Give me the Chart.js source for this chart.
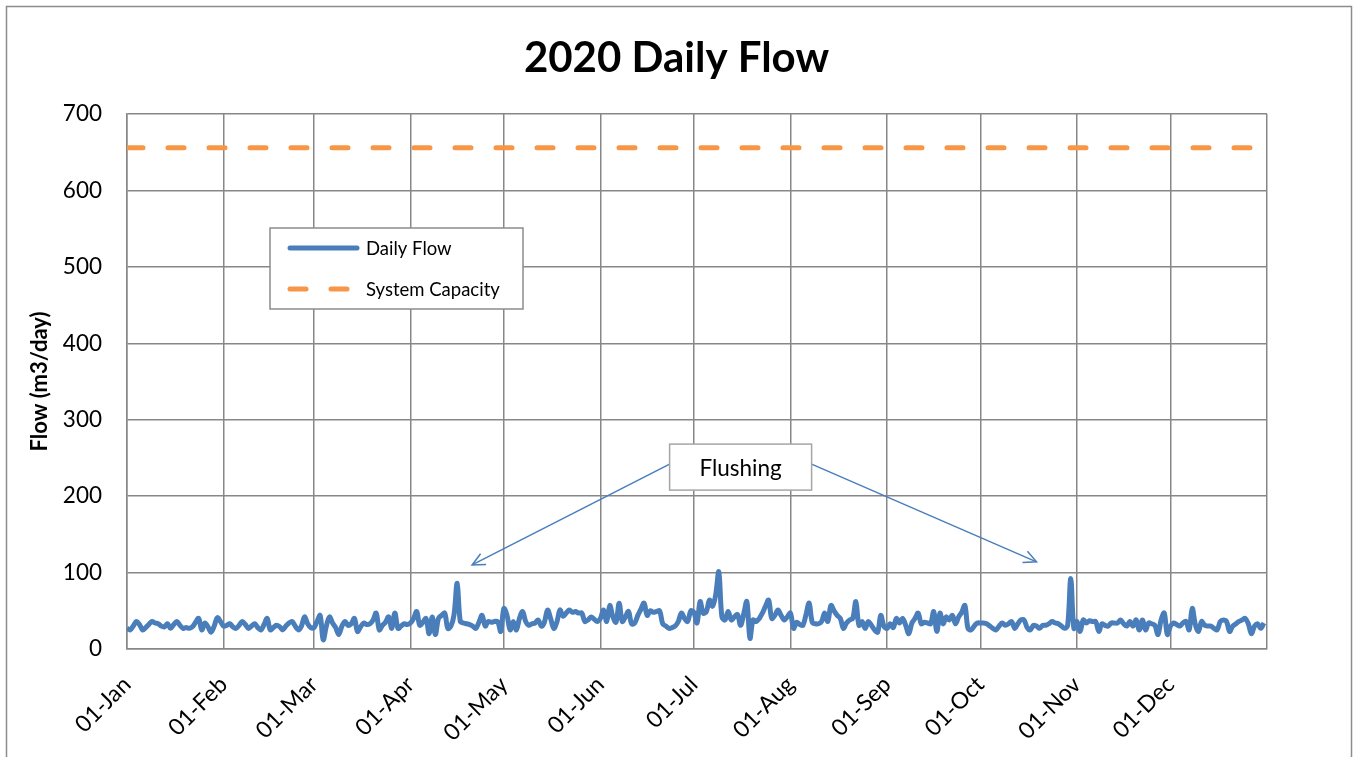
<!DOCTYPE html>
<html>
<head>
<meta charset="utf-8">
<title>2020 Daily Flow</title>
<script src="https://cdn.jsdelivr.net/npm/chart.js@4.4.0/dist/chart.umd.min.js"></script>
<style>
html, body { margin: 0; padding: 0; background: #fff; }
canvas { display: block; }
</style>
</head>
<body>
<canvas id="flow_chart" width="1353" height="757"></canvas>
<script>
// month tick labels and lengths (2020 is a leap year)
var monthLabels = ['01-Jan', '01-Feb', '01-Mar', '01-Apr', '01-May', '01-Jun',
                   '01-Jul', '01-Aug', '01-Sep', '01-Oct', '01-Nov', '01-Dec'];
var monthDays = [31, 29, 31, 30, 31, 30, 31, 31, 30, 31, 30, 31];
var yTicks = [0, 100, 200, 300, 400, 500, 600, 700];

// daily flow, m3/day, 01-Jan .. 31-Dec
var dailyFlow = [
    27, 25, 30, 36, 32, 25, 28, 32, 36, 34,
    33, 30, 29, 33, 27, 32, 36, 31, 27, 28,
    27, 29, 35, 40, 25, 34, 29, 22, 30, 41,
    36, 30, 31, 33, 29, 27, 31, 36, 32, 27,
    30, 33, 28, 25, 32, 40, 25, 28, 31, 29,
    25, 30, 34, 36, 30, 25, 30, 42, 33, 28,
    28, 36, 44, 12, 30, 42, 34, 28, 19, 30,
    36, 31, 33, 40, 23, 29, 34, 32, 33, 38,
    47, 25, 31, 35, 42, 27, 47, 27, 30, 33,
    32, 34, 40, 49, 31, 35, 40, 20, 42, 19,
    40, 44, 47, 27, 30, 45, 86, 36, 34, 33,
    32, 30, 27, 35, 44, 30, 36, 35, 36, 36,
    23, 53, 44, 25, 36, 25, 40, 49, 36, 31,
    33, 34, 38, 30, 35, 51, 40, 27, 35, 51,
    43, 47, 51, 48, 49, 47, 47, 36, 38, 42,
    39, 36, 40, 51, 36, 57, 42, 35, 60, 36,
    42, 49, 33, 34, 44, 52, 60, 44, 50, 48,
    49, 50, 33, 30, 27, 28, 30, 36, 47, 40,
    36, 50, 48, 34, 62, 47, 49, 64, 56, 71,
    101, 42, 38, 49, 38, 42, 45, 31, 46, 62,
    14, 38, 36, 40, 47, 56, 64, 40, 44, 51,
    44, 38, 42, 47, 27, 35, 32, 31, 45, 60,
    35, 33, 33, 36, 47, 36, 57, 50, 44, 40,
    27, 34, 38, 40, 62, 31, 36, 27, 36, 31,
    25, 22, 44, 30, 27, 33, 28, 40, 34, 40,
    31, 20, 34, 40, 47, 33, 35, 34, 33, 49,
    23, 47, 33, 42, 38, 44, 33, 42, 48, 57,
    27, 25, 30, 34, 34, 34, 33, 30, 27, 25,
    30, 34, 31, 33, 36, 27, 33, 38, 38, 28,
    25, 31, 30, 27, 31, 31, 33, 36, 34, 33,
    30, 27, 31, 92, 27, 36, 23, 38, 34, 37,
    36, 36, 23, 33, 31, 30, 34, 34, 34, 38,
    33, 30, 36, 30, 38, 25, 38, 25, 34, 33,
    31, 19, 38, 47, 19, 30, 34, 32, 30, 34,
    36, 25, 53, 32, 23, 36, 31, 30, 30, 27,
    25, 36, 38, 36, 23, 30, 33, 36, 38, 40,
    33, 20, 30, 33, 27, 34
];
var systemCapacity = 656;

// callout: label position and arrow tips, in day / flow units
var calloutText = 'Flushing';
var calloutAt = [197, 238];
var calloutTips = [[110.8, 110], [292, 114]];

var blue = '#4a7ebb';
var orange = '#f79646';
var gridGrey = '#878787';

var monthStarts = [];
var dayCount = 0;
for (var m = 0; m < monthDays.length; m++) {
    monthStarts.push(dayCount);
    dayCount += monthDays[m];
}

var decorations = {
    id: 'decorations',
    afterDraw: function (chart) {
        var ctx = chart.ctx;
        var sx = chart.scales.x, sy = chart.scales.y;
        ctx.save();

        // outer chart border
        ctx.strokeStyle = '#8c8c8c';
        ctx.lineWidth = 1.5;
        ctx.strokeRect(6.5, 6.5, 1345, 800);

        // legend box
        var lx = 270, ly = 228, lw = 253, lh = 81;
        ctx.fillStyle = '#fff';
        ctx.fillRect(lx, ly, lw, lh);
        ctx.strokeStyle = '#8c8c8c';
        ctx.lineWidth = 1.5;
        ctx.strokeRect(lx, ly, lw, lh);
        ctx.font = '18.5px Lato';
        ctx.textBaseline = 'middle';
        ctx.textAlign = 'left';
        var rows = [chart.data.datasets[1], chart.data.datasets[0]];
        rows.forEach(function (ds, i) {
            var y = ly + 20 + i * 41;
            ctx.strokeStyle = ds.borderColor;
            ctx.lineWidth = ds.borderWidth;
            ctx.lineCap = 'round';
            ctx.setLineDash(ds.borderDash || []);
            ctx.beginPath();
            ctx.moveTo(lx + 20, y);
            ctx.lineTo(lx + 87, y);
            ctx.stroke();
            ctx.setLineDash([]);
            ctx.fillStyle = '#000';
            ctx.fillText(ds.label, lx + 96, y + 1);
        });

        // flushing callout
        var bx = sx.getPixelForValue(calloutAt[0]);
        var by = sy.getPixelForValue(calloutAt[1]);
        var bw = 142, bh = 46;
        ctx.strokeStyle = blue;
        ctx.lineWidth = 1.5;
        ctx.lineCap = 'butt';
        calloutTips.forEach(function (t) {
            var tx = sx.getPixelForValue(t[0]);
            var ty = sy.getPixelForValue(t[1]);
            var fx = tx < bx ? bx - bw / 2 : bx + bw / 2;
            var fy = by - 3;
            ctx.beginPath();
            ctx.moveTo(fx, fy);
            ctx.lineTo(tx, ty);
            ctx.stroke();
            var ang = Math.atan2(ty - fy, tx - fx);
            ctx.beginPath();
            ctx.moveTo(tx - 14 * Math.cos(ang - 0.45), ty - 14 * Math.sin(ang - 0.45));
            ctx.lineTo(tx, ty);
            ctx.lineTo(tx - 14 * Math.cos(ang + 0.45), ty - 14 * Math.sin(ang + 0.45));
            ctx.stroke();
        });
        ctx.fillStyle = '#fff';
        ctx.fillRect(bx - bw / 2, by - bh / 2, bw, bh);
        ctx.strokeStyle = '#a6a6a6';
        ctx.lineWidth = 1.5;
        ctx.strokeRect(bx - bw / 2, by - bh / 2, bw, bh);
        ctx.fillStyle = '#000';
        ctx.font = '22.5px Lato';
        ctx.textAlign = 'center';
        ctx.fillText(calloutText, bx, by + 2);

        ctx.restore();
    }
};

new Chart(document.getElementById('flow_chart').getContext('2d'), {
    type: 'line',
    data: {
        datasets: [{
            label: 'System Capacity',
            data: [{x: 0, y: systemCapacity}, {x: dayCount, y: systemCapacity}],
            borderColor: orange,
            borderWidth: 5,
            borderDash: [16, 25],
            borderCapStyle: 'round',
            pointRadius: 0
        }, {
            label: 'Daily Flow',
            data: dailyFlow.map(function (v, i) { return {x: i, y: v}; }),
            borderColor: blue,
            borderWidth: 5,
            borderJoinStyle: 'round',
            tension: 0.35,
            pointRadius: 0
        }]
    },
    plugins: [decorations],
    options: {
        responsive: false,
        devicePixelRatio: 1,
        animation: false,
        layout: { padding: { left: 0, right: 0, top: 0, bottom: 0 } },
        plugins: {
            legend: { display: false },
            tooltip: { enabled: false },
            title: {
                display: true,
                text: '2020 Daily Flow',
                color: '#000',
                font: { family: 'Lato', size: 42, weight: 'bold', lineHeight: 1.2 },
                padding: { top: 33, bottom: 30.6 }
            }
        },
        scales: {
            x: {
                type: 'linear',
                min: 0,
                max: dayCount,
                afterFit: function (scale) { scale.height = 108; },
                afterBuildTicks: function (scale) {
                    scale.ticks = monthStarts.concat([dayCount]).map(function (v) { return {value: v}; });
                },
                grid: { color: gridGrey, lineWidth: 1.5, drawTicks: false },
                border: { color: gridGrey, width: 1.5 },
                ticks: {
                    autoSkip: false,
                    maxRotation: 45,
                    minRotation: 45,
                    padding: 22,
                    color: '#000',
                    font: { family: 'Lato', size: 23 },
                    callback: function (value) {
                        var i = monthStarts.indexOf(value);
                        return i >= 0 ? monthLabels[i] : '';
                    }
                }
            },
            y: {
                min: 0,
                max: 700,
                afterFit: function (scale) { scale.width = 127; },
                afterBuildTicks: function (scale) {
                    scale.ticks = yTicks.map(function (v) { return {value: v}; });
                },
                grid: { color: gridGrey, lineWidth: 1.5, drawTicks: false },
                border: { color: gridGrey, width: 1.5 },
                ticks: {
                    padding: 25,
                    color: '#000',
                    font: { family: 'Lato', size: 22.5 }
                },
                title: {
                    display: true,
                    text: 'Flow (m3/day)',
                    color: '#000',
                    font: { family: 'Lato', size: 22, weight: 'bold', lineHeight: 1.2 },
                    padding: { top: 27, bottom: 0 }
                }
            },
            // blank strip on the right, so the title centres on the whole canvas
            spacer: {
                position: 'right',
                display: true,
                afterFit: function (scale) { scale.width = 86; },
                grid: { display: false },
                border: { display: false },
                ticks: { display: false }
            }
        }
    }
});
</script>
</body>
</html>
